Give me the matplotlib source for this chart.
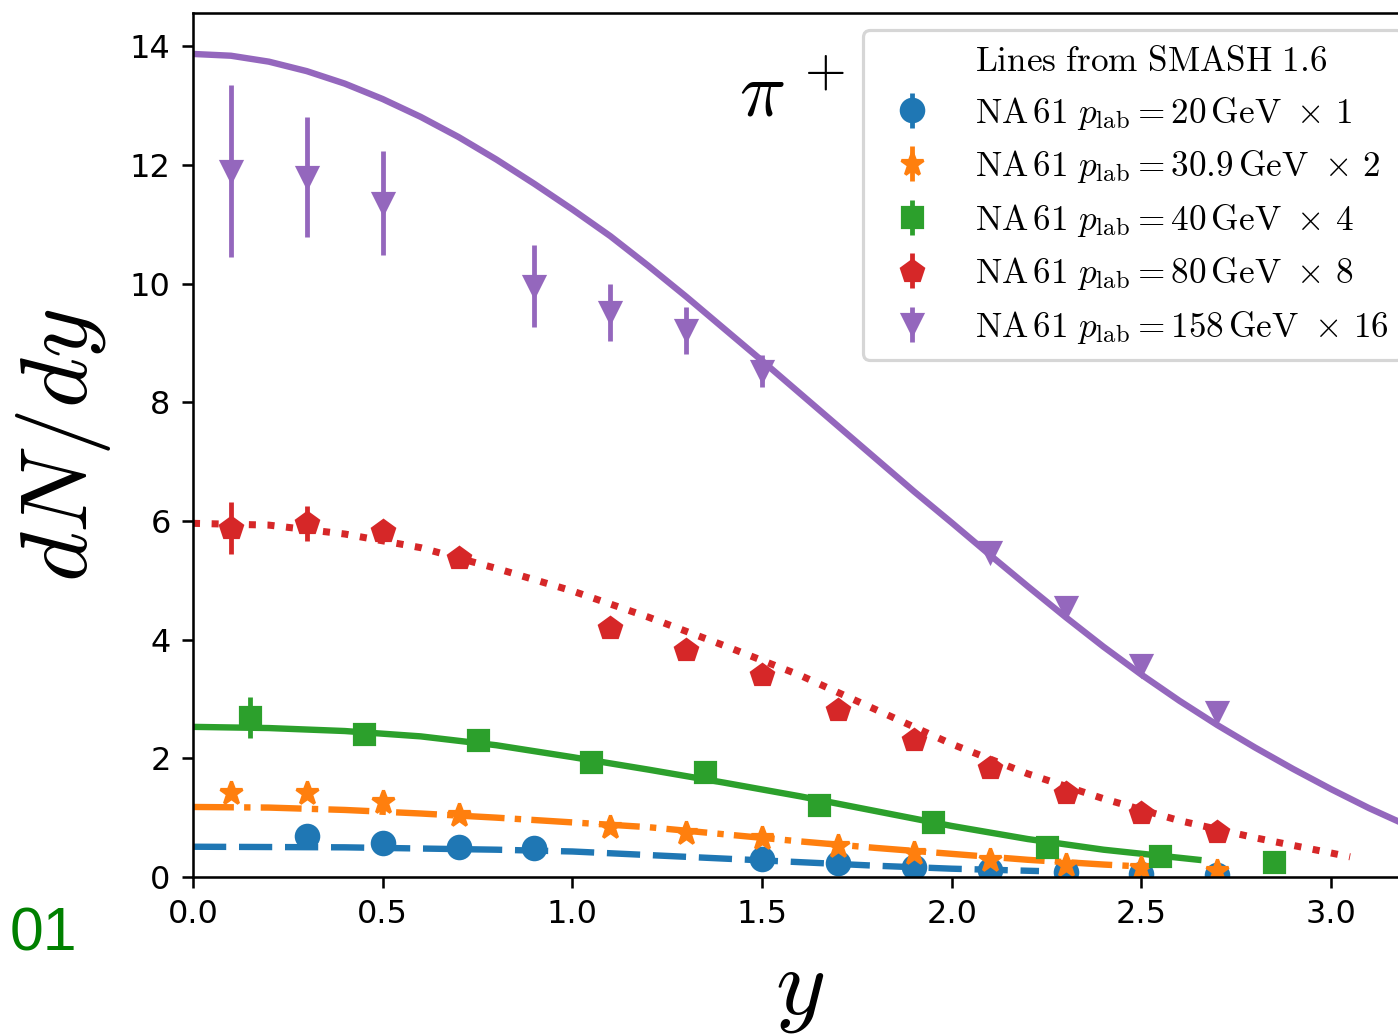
import matplotlib
matplotlib.use('Agg')
import matplotlib.pyplot as plt
from matplotlib.lines import Line2D

plt.rcParams['mathtext.fontset'] = 'cm'

# --- data points (NA61, pi+), already multiplied by the factors in the legend
y_20 = [0.3, 0.5, 0.7, 0.9, 1.5, 1.7, 1.9, 2.1, 2.3, 2.5, 2.7]
dndy_20 = [0.69, 0.57, 0.51, 0.49, 0.30, 0.23, 0.17, 0.12, 0.08, 0.05, 0.03]
err_20 = [0.04] * len(y_20)

y_31 = [0.1, 0.3, 0.5, 0.7, 1.1, 1.3, 1.5, 1.7, 1.9, 2.1, 2.3, 2.5, 2.7]
dndy_31 = [1.41, 1.41, 1.26, 1.05, 0.85, 0.74, 0.66, 0.52, 0.40, 0.29, 0.20, 0.15, 0.10]
err_31 = [0.05] * len(y_31)

y_40 = [0.15, 0.45, 0.75, 1.05, 1.35, 1.65, 1.95, 2.25, 2.55, 2.85]
dndy_40 = [2.69, 2.41, 2.31, 1.94, 1.77, 1.21, 0.93, 0.51, 0.36, 0.25]
err_40 = [0.35, 0.06, 0.06, 0.05, 0.05, 0.04, 0.04, 0.03, 0.03, 0.03]

y_80 = [0.1, 0.3, 0.5, 0.7, 1.1, 1.3, 1.5, 1.7, 1.9, 2.1, 2.3, 2.5, 2.7]
dndy_80 = [5.88, 5.96, 5.83, 5.37, 4.19, 3.82, 3.40, 2.81, 2.31, 1.84, 1.42, 1.08, 0.76]
err_80 = [0.44, 0.30, 0.15, 0.08, 0.06, 0.06, 0.06, 0.06, 0.06, 0.08, 0.06, 0.05, 0.05]

y_158 = [0.1, 0.3, 0.5, 0.9, 1.1, 1.3, 1.5, 2.1, 2.3, 2.5, 2.7]
dndy_158 = [11.89, 11.80, 11.36, 9.96, 9.52, 9.21, 8.53, 5.48, 4.55, 3.57, 2.78]
err_158 = [1.45, 1.01, 0.88, 0.69, 0.48, 0.40, 0.27, 0.10, 0.10, 0.10, 0.10]

# --- SMASH 1.6 curves
line_y_20 = [0.0, 0.4, 0.8, 1.0, 1.2, 1.4, 1.6, 1.8, 2.0, 2.23]
line_20 = [0.51, 0.50, 0.46, 0.43, 0.37, 0.31, 0.25, 0.19, 0.14, 0.10]

line_y_31 = [0.0, 0.2, 0.4, 0.6, 0.8, 1.0, 1.2, 1.4, 1.6, 1.8, 2.0, 2.2, 2.4, 2.52]
line_31 = [1.18, 1.17, 1.13, 1.07, 1.00, 0.92, 0.84, 0.72, 0.60, 0.49, 0.39, 0.29, 0.21, 0.17]

line_y_40 = [0.0, 0.2, 0.4, 0.6, 0.8, 1.0, 1.2, 1.4, 1.6, 1.8, 2.0, 2.2, 2.4, 2.65]
line_40 = [2.53, 2.51, 2.46, 2.37, 2.22, 2.02, 1.81, 1.59, 1.36, 1.11, 0.86, 0.64, 0.46, 0.29]

line_y_80 = [0.0, 0.2, 0.4, 0.6, 0.8, 1.0, 1.2, 1.4, 1.6, 1.8, 2.0, 2.2, 2.4, 2.6, 2.8, 3.05]
line_80 = [5.96, 5.93, 5.78, 5.55, 5.20, 4.82, 4.38, 3.90, 3.40, 2.82, 2.24, 1.74, 1.32, 0.95, 0.66, 0.34]

line_y_158 = [0.0, 0.1, 0.2, 0.3, 0.4, 0.5, 0.6, 0.7, 0.8, 0.9, 1.0, 1.1, 1.2, 1.3, 1.4,
              1.5, 1.6, 1.7, 1.8, 1.9, 2.0, 2.1, 2.2, 2.3, 2.4, 2.5, 2.6, 2.7, 2.8,
              2.9, 3.0, 3.1, 3.2]
line_158 = [13.87, 13.84, 13.74, 13.58, 13.37, 13.11, 12.81, 12.47, 12.09, 11.68, 11.25,
            10.80, 10.30, 9.78, 9.24, 8.70, 8.15, 7.60, 7.05, 6.50, 5.97, 5.43, 4.90,
            4.38, 3.88, 3.41, 2.97, 2.56, 2.18, 1.82, 1.48, 1.16, 0.87]

labels = [
    r'$\mathrm{NA\,61}\ p_{\mathrm{lab}} = 20\,\mathrm{GeV}\ \times\, 1$',
    r'$\mathrm{NA\,61}\ p_{\mathrm{lab}} = 30.9\,\mathrm{GeV}\ \times\, 2$',
    r'$\mathrm{NA\,61}\ p_{\mathrm{lab}} = 40\,\mathrm{GeV}\ \times\, 4$',
    r'$\mathrm{NA\,61}\ p_{\mathrm{lab}} = 80\,\mathrm{GeV}\ \times\, 8$',
    r'$\mathrm{NA\,61}\ p_{\mathrm{lab}} = 158\,\mathrm{GeV}\ \times\, 16$',
]

fig = plt.figure(figsize=(1398 / 230, 1034 / 230), dpi=230)
ax = fig.add_axes([193 / 1398, 157 / 1034, 1214 / 1398, 864 / 1034])

ms = 6.5
ax.plot(line_y_20, line_20, '--', color='C0', lw=2, dashes=(5.2, 2.0))
ax.plot(line_y_31, line_31, '-.', color='C1', lw=2)
ax.plot(line_y_40, line_40, '-', color='C2', lw=2)
ax.plot(line_y_80, line_80, ':', color='C3', lw=2.2)
ax.plot(line_y_158, line_158, '-', color='C4', lw=2)

h20 = ax.errorbar(y_20, dndy_20, yerr=err_20, fmt='o', color='C0', ms=ms + 0.5)
h31 = ax.errorbar(y_31, dndy_31, yerr=err_31, fmt='*', color='C1', ms=ms + 1)
h40 = ax.errorbar(y_40, dndy_40, yerr=err_40, fmt='s', color='C2', ms=ms)
h80 = ax.errorbar(y_80, dndy_80, yerr=err_80, fmt='p', color='C3', ms=ms + 0.5)
h158 = ax.errorbar(y_158, dndy_158, yerr=err_158, fmt='v', color='C4', ms=ms)

blank = Line2D([], [], linestyle='none')
fig.legend([blank, h20, h31, h40, h80, h158],
           [r'$\mathrm{Lines\ from\ SMASH\ 1.6}$'] + labels,
           loc='upper left', bbox_to_anchor=(863 / 1398, 1 - 30 / 1034),
           borderaxespad=0, fontsize=11, framealpha=0.8,
           labelspacing=0.47, borderpad=0.4)

ax.text(1.44, 12.84, r'$\pi^{\,+}$', fontsize=24)

ax.set_xlim(0, 3.2)
ax.set_ylim(0, 14.56)
ax.set_xticks([0.0, 0.5, 1.0, 1.5, 2.0, 2.5, 3.0])
ax.set_yticks(range(0, 15, 2))
ax.set_xlabel(r'$y$', fontsize=30)
ax.set_ylabel(r'$dN/dy$', fontsize=30)
ax.xaxis.set_label_coords(0.5, -0.075)
ax.yaxis.set_label_coords(-0.066, 0.5)

fig.text(0.007, 0.081, '01', color='green', fontsize=19, family='Liberation Sans')

fig.savefig('out.png', dpi=230)
